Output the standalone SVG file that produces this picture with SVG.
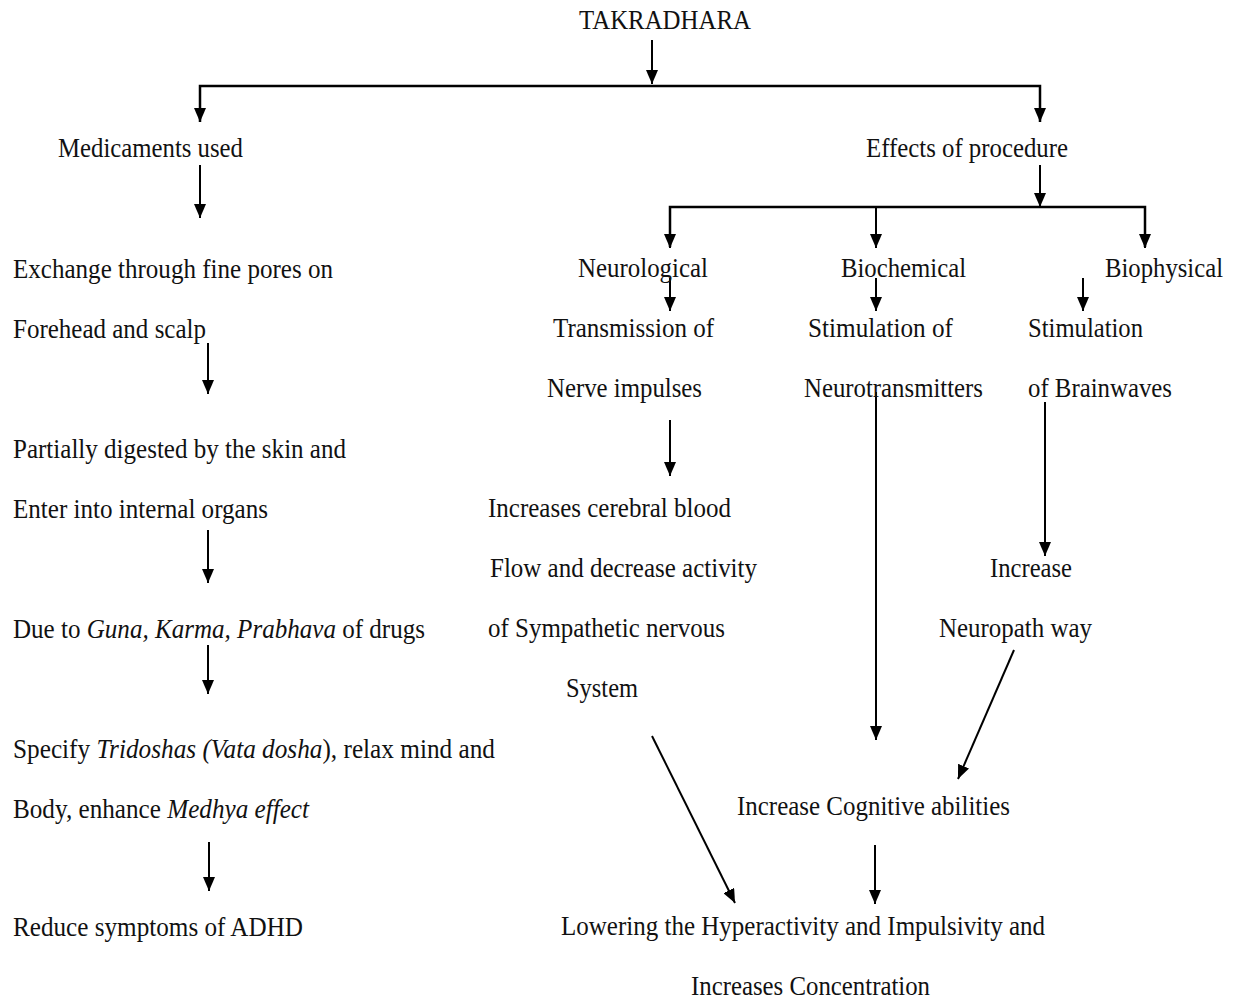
<svg xmlns="http://www.w3.org/2000/svg" width="1237" height="998" viewBox="0 0 1237 998">
<style>
text{font-family:"Liberation Serif","Times New Roman",serif;font-size:27px;fill:#111;}
.c{stroke:#000;stroke-width:2;fill:none;}
.b{stroke:#000;stroke-width:2.5;fill:none;}
</style>
<defs>
<marker id="ah" markerUnits="userSpaceOnUse" markerWidth="14" markerHeight="12" refX="14" refY="6" orient="auto">
<path d="M0,0 L14,6 L0,12 z" fill="#000"/>
</marker>
</defs>
<rect width="1237" height="998" fill="#fff"/>
<g id="connectors">
<line class="c" x1="652" y1="40" x2="652" y2="84" marker-end="url(#ah)"/>
<polyline class="b" points="200,122 200,86 1040,86 1040,122"/>
<line class="c" x1="200" y1="90" x2="200" y2="122" marker-end="url(#ah)"/>
<line class="c" x1="1040" y1="90" x2="1040" y2="122" marker-end="url(#ah)"/>
<line class="c" x1="200" y1="165" x2="200" y2="218" marker-end="url(#ah)"/>
<line class="c" x1="1040" y1="165" x2="1040" y2="207" marker-end="url(#ah)"/>
<polyline class="b" points="670,247 670,207 1145,207 1145,247"/>
<line class="c" x1="670" y1="210" x2="670" y2="248" marker-end="url(#ah)"/>
<line class="c" x1="876" y1="207" x2="876" y2="248" marker-end="url(#ah)"/>
<line class="c" x1="1145" y1="210" x2="1145" y2="248" marker-end="url(#ah)"/>
<line class="c" x1="670" y1="278" x2="670" y2="311" marker-end="url(#ah)"/>
<line class="c" x1="876" y1="278" x2="876" y2="311" marker-end="url(#ah)"/>
<line class="c" x1="1083" y1="278" x2="1083" y2="311" marker-end="url(#ah)"/>
<line class="c" x1="670" y1="420" x2="670" y2="476" marker-end="url(#ah)"/>
<line class="c" x1="876" y1="392" x2="876" y2="740" marker-end="url(#ah)"/>
<line class="c" x1="1045" y1="402" x2="1045" y2="556" marker-end="url(#ah)"/>
<line class="c" x1="1014" y1="650" x2="958" y2="779" marker-end="url(#ah)"/>
<line class="c" x1="652" y1="736" x2="735" y2="903" marker-end="url(#ah)"/>
<line class="c" x1="875" y1="845" x2="875" y2="904" marker-end="url(#ah)"/>
<line class="c" x1="208" y1="343" x2="208" y2="394" marker-end="url(#ah)"/>
<line class="c" x1="208" y1="530" x2="208" y2="583" marker-end="url(#ah)"/>
<line class="c" x1="208" y1="645" x2="208" y2="694" marker-end="url(#ah)"/>
<line class="c" x1="209" y1="842" x2="209" y2="891" marker-end="url(#ah)"/>
</g>
<g id="takradhara"><text x="579" y="29" textLength="172" lengthAdjust="spacingAndGlyphs">TAKRADHARA</text></g>
<g id="medicaments"><text x="58" y="157" textLength="185" lengthAdjust="spacingAndGlyphs">Medicaments used</text></g>
<g id="effects"><text x="866" y="157" textLength="202" lengthAdjust="spacingAndGlyphs">Effects of procedure</text></g>
<g id="neurological"><text x="578" y="277" textLength="130" lengthAdjust="spacingAndGlyphs">Neurological</text></g>
<g id="biochemical"><text x="841" y="277" textLength="125" lengthAdjust="spacingAndGlyphs">Biochemical</text></g>
<g id="biophysical"><text x="1105" y="277" textLength="118" lengthAdjust="spacingAndGlyphs">Biophysical</text></g>
<g id="transmission">
<text x="553" y="337" textLength="161" lengthAdjust="spacingAndGlyphs">Transmission of</text>
<text x="547" y="397" textLength="155" lengthAdjust="spacingAndGlyphs">Nerve impulses</text>
</g>
<g id="stim-neuro">
<text x="808" y="337" textLength="145" lengthAdjust="spacingAndGlyphs">Stimulation of</text>
<text x="804" y="397" textLength="179" lengthAdjust="spacingAndGlyphs">Neurotransmitters</text>
</g>
<g id="stim-brain">
<text x="1028" y="337" textLength="115" lengthAdjust="spacingAndGlyphs">Stimulation</text>
<text x="1028" y="397" textLength="144" lengthAdjust="spacingAndGlyphs">of Brainwaves</text>
</g>
<g id="cerebral">
<text x="488" y="517" textLength="243" lengthAdjust="spacingAndGlyphs">Increases cerebral blood</text>
<text x="490" y="577" textLength="267" lengthAdjust="spacingAndGlyphs">Flow and decrease activity</text>
<text x="488" y="637" textLength="237" lengthAdjust="spacingAndGlyphs">of Sympathetic nervous</text>
<text x="566" y="697" textLength="72" lengthAdjust="spacingAndGlyphs">System</text>
</g>
<g id="neuropath">
<text x="990" y="577" textLength="82" lengthAdjust="spacingAndGlyphs">Increase</text>
<text x="939" y="637" textLength="153" lengthAdjust="spacingAndGlyphs">Neuropath way</text>
</g>
<g id="cognitive"><text x="737" y="815" textLength="273" lengthAdjust="spacingAndGlyphs">Increase Cognitive abilities</text></g>
<g id="lowering">
<text x="561" y="935" textLength="484" lengthAdjust="spacingAndGlyphs">Lowering the Hyperactivity and Impulsivity and</text>
<text x="691" y="995" textLength="239" lengthAdjust="spacingAndGlyphs">Increases Concentration</text>
</g>
<g id="exchange">
<text x="13" y="278" textLength="320" lengthAdjust="spacingAndGlyphs">Exchange through fine pores on</text>
<text x="13" y="338" textLength="193" lengthAdjust="spacingAndGlyphs">Forehead and scalp</text>
</g>
<g id="partially">
<text x="13" y="458" textLength="333" lengthAdjust="spacingAndGlyphs">Partially digested by the skin and</text>
<text x="13" y="518" textLength="255" lengthAdjust="spacingAndGlyphs">Enter into internal organs</text>
</g>
<g id="guna"><text x="13" y="638" textLength="412" lengthAdjust="spacingAndGlyphs">Due to <tspan font-style="italic">Guna, Karma, Prabhava</tspan> of drugs</text></g>
<g id="specify">
<text x="13" y="758" textLength="482" lengthAdjust="spacingAndGlyphs">Specify <tspan font-style="italic">Tridoshas (Vata dosha</tspan>), relax mind and</text>
<text x="13" y="818" textLength="296" lengthAdjust="spacingAndGlyphs">Body, enhance <tspan font-style="italic">Medhya effect</tspan></text>
</g>
<g id="reduce"><text x="13" y="936" textLength="290" lengthAdjust="spacingAndGlyphs">Reduce symptoms of ADHD</text></g>
</svg>
